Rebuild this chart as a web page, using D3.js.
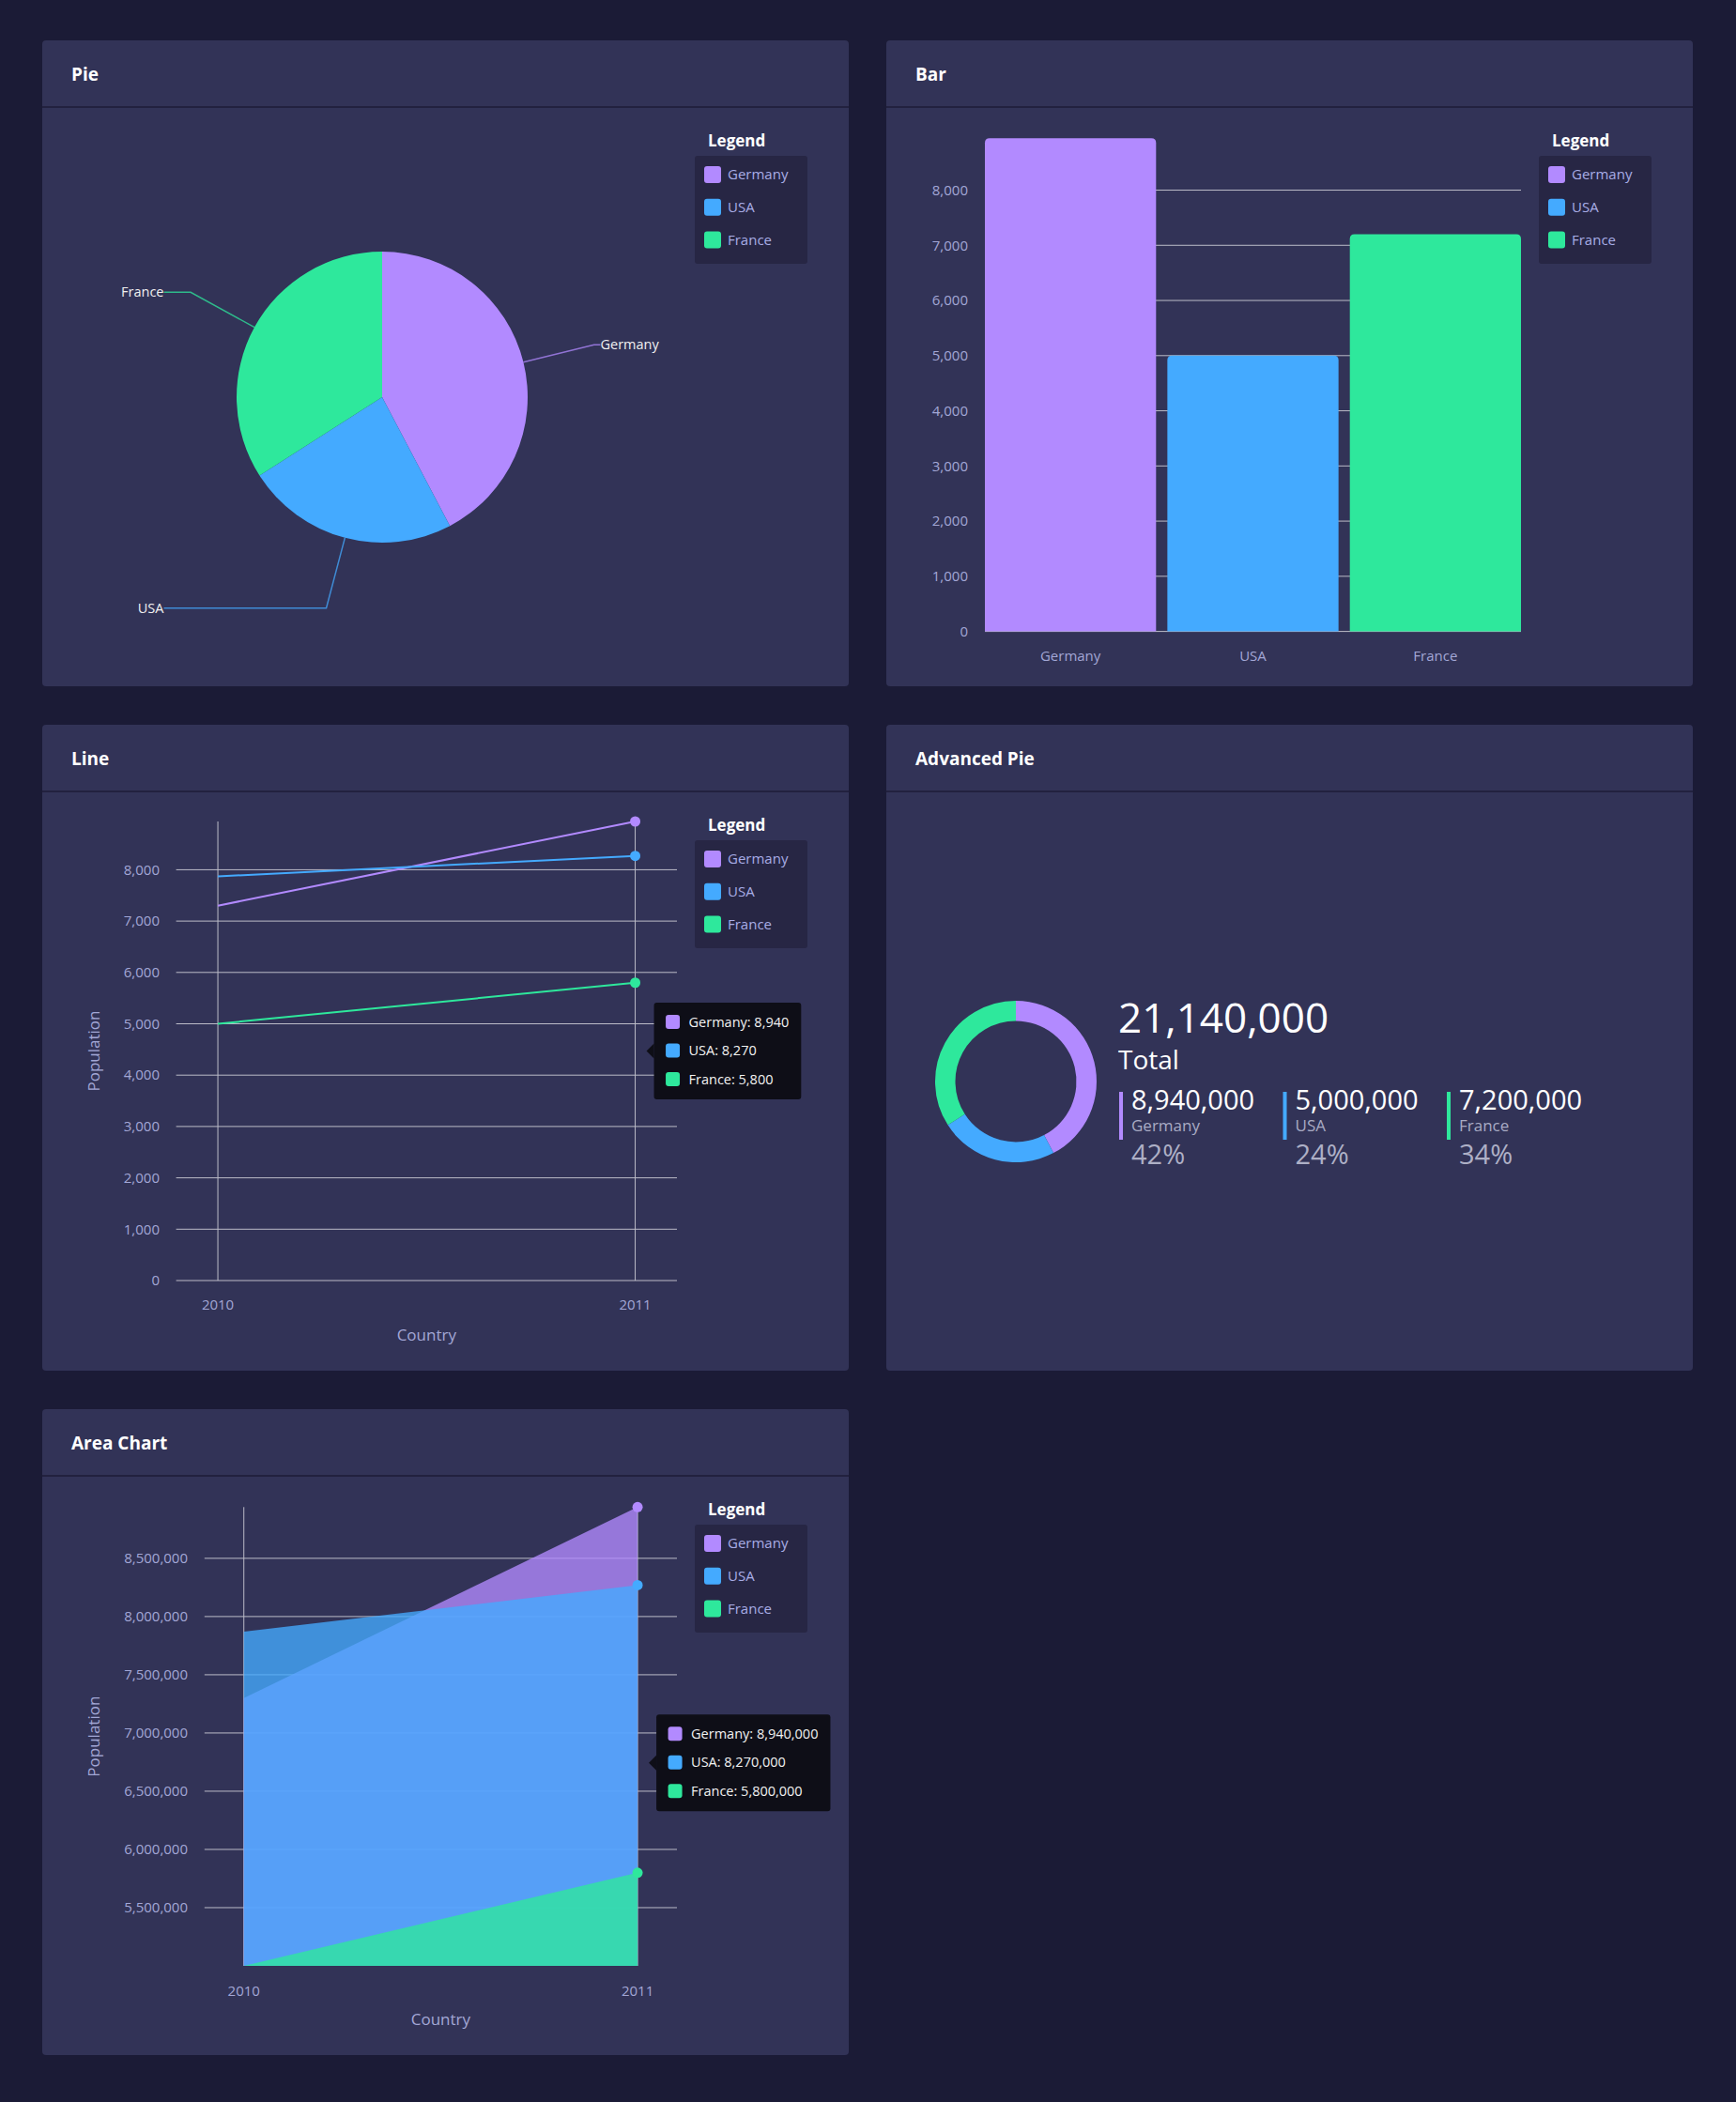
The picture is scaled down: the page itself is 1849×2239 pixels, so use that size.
<!DOCTYPE html>
<html>
<head>
<meta charset="utf-8">
<script src="https://cdn.jsdelivr.net/npm/d3@7"></script>
<style>
  body { margin: 0; background: #1b1b36; font-family: "Open Sans", sans-serif; }
  svg { display: block; }
</style>
</head>
<body>
<div id="dashboard"></div>
<script>
// ---- data ----
const countries = ["Germany", "USA", "France"];
const countryColors = ["#b28aff", "#44aaff", "#2ee89c"];

// single series (pie, advanced pie)
const singleValues = [8940000, 5000000, 7200000];
// bar chart (thousands)
const barValues = [8940, 5000, 7200];
const barTicks = [0, 1000, 2000, 3000, 4000, 5000, 6000, 7000, 8000];

// multi series
const years = ["2010", "2011"];
const lineGermany = [7300, 8940];
const lineUSA = [7870, 8270];
const lineFrance = [5000, 5800];
const lineTicks = [0, 1000, 2000, 3000, 4000, 5000, 6000, 7000, 8000];

const areaGermany = [7300000, 8940000];
const areaUSA = [7870000, 8270000];
const areaFrance = [5000002, 5800000];
const areaTicks = [5500000, 6000000, 6500000, 7000000, 7500000, 8000000, 8500000];

const ctx = {
    w: 1849,
    h: 2239,
    cardW: 859,
    cardH: 688,
    cols: [45, 944],
    rows: [43, 772, 1501],
    headerH: 71,
    cardFill: "#323357",
    tickColor: "#a3a7d6",
    gridColor: "#bcbcc8"
};

const fmt = d3.format(",");

function createViz() {
    const svg = d3.select("#dashboard").append("svg")
        .attr("width", ctx.w)
        .attr("height", ctx.h);

    svg.append("rect")
        .attr("width", ctx.w)
        .attr("height", ctx.h)
        .attr("fill", "#1b1b36");

    drawPie(drawCard(svg, ctx.cols[0], ctx.rows[0], "Pie"));
    drawBar(drawCard(svg, ctx.cols[1], ctx.rows[0], "Bar"));
    drawLine(drawCard(svg, ctx.cols[0], ctx.rows[1], "Line"));
    drawAdvancedPie(drawCard(svg, ctx.cols[1], ctx.rows[1], "Advanced Pie"));
    drawArea(drawCard(svg, ctx.cols[0], ctx.rows[2], "Area Chart"));
}

function drawCard(svg, x, y, title) {
    const g = svg.append("g").attr("transform", `translate(${x},${y})`);
    g.append("rect")
        .attr("width", ctx.cardW)
        .attr("height", ctx.cardH)
        .attr("rx", 4)
        .attr("fill", ctx.cardFill);
    g.append("line")
        .attr("x1", 0).attr("x2", ctx.cardW)
        .attr("y1", ctx.headerH).attr("y2", ctx.headerH)
        .attr("stroke", "#1e1d37")
        .attr("stroke-width", 1.5);
    g.append("text")
        .attr("x", 31)
        .attr("y", 43)
        .attr("fill", "#ffffff")
        .style("font-size", "19px")
        .style("font-weight", 700)
        .text(title);
    return g;
}

function drawLegend(g) {
    g.append("text")
        .attr("x", 709)
        .attr("y", 107)
        .attr("dy", ".35em")
        .attr("fill", "#ffffff")
        .style("font-size", "17px")
        .style("font-weight", 700)
        .text("Legend");

    g.append("rect")
        .attr("x", 695).attr("y", 123)
        .attr("width", 120).attr("height", 115)
        .attr("rx", 3)
        .attr("fill", "#272644");

    const item = g.selectAll("g.legend-item")
        .data(countries)
        .join("g")
        .attr("class", "legend-item")
        .attr("transform", (d, i) => `translate(0,${143 + i * 34.75})`);

    item.append("rect")
        .attr("x", 705).attr("y", -9)
        .attr("width", 18).attr("height", 18)
        .attr("rx", 3)
        .attr("fill", (d, i) => countryColors[i]);

    item.append("text")
        .attr("x", 730)
        .attr("dy", ".35em")
        .attr("fill", "#a8ade6")
        .style("font-size", "15px")
        .text(d => d);
}

function drawYAxis(g, y, ticks, x0, x1, labelX) {
    // horizontal grid lines + tick labels
    ticks.forEach(t => {
        g.append("line")
            .attr("x1", x0).attr("x2", x1)
            .attr("y1", y(t)).attr("y2", y(t))
            .attr("stroke", ctx.gridColor)
            .attr("stroke-width", 1);
        g.append("text")
            .attr("x", labelX)
            .attr("y", y(t))
            .attr("dy", ".35em")
            .attr("text-anchor", "end")
            .attr("fill", ctx.tickColor)
            .style("font-size", "15px")
            .text(fmt(t));
    });
}

function drawAxisLabels(g, xMid, yMid, xLabelY) {
    g.append("text")
        .attr("transform", `translate(55,${yMid}) rotate(-90)`)
        .attr("dy", ".35em")
        .attr("text-anchor", "middle")
        .attr("fill", ctx.tickColor)
        .style("font-size", "17px")
        .text("Population");
    g.append("text")
        .attr("x", xMid)
        .attr("y", xLabelY)
        .attr("dy", ".35em")
        .attr("text-anchor", "middle")
        .attr("fill", ctx.tickColor)
        .style("font-size", "17px")
        .text("Country");
}

function drawTooltip(g, left, centerY, rows) {
    const h = 103;
    const top = centerY - h / 2;
    const tip = g.append("g");
    const box = tip.append("rect")
        .attr("x", left).attr("y", top)
        .attr("height", h)
        .attr("rx", 3)
        .attr("fill", "#0e0e17");
    tip.append("path")
        .attr("d", `M${left},${centerY - 8}L${left - 8},${centerY}L${left},${centerY + 8}Z`)
        .attr("fill", "#0e0e17");

    let maxW = 0;
    rows.forEach((r, i) => {
        const cy = top + 20.5 + i * 30.5;
        tip.append("rect")
            .attr("x", left + 12.5).attr("y", cy - 7.5)
            .attr("width", 15).attr("height", 15)
            .attr("rx", 3)
            .attr("fill", countryColors[i]);
        const t = tip.append("text")
            .attr("x", left + 37)
            .attr("y", cy)
            .attr("dy", ".35em")
            .attr("fill", "#f2f2f2")
            .style("font-size", "14.5px")
            .text(r);
        maxW = Math.max(maxW, t.node().getComputedTextLength());
    });
    box.attr("width", 37 + maxW + 13);
}

function drawPie(g) {
    const cx = 362, cy = 380, r = 155;
    const data = countries.map((c, i) => ({ name: c, value: singleValues[i], color: countryColors[i] }));
    const arcs = d3.pie().sort(null).value(d => d.value)(data);
    const arc = d3.arc().innerRadius(0).outerRadius(r);

    const pg = g.append("g").attr("transform", `translate(${cx},${cy})`);
    pg.selectAll("path.slice")
        .data(arcs)
        .join("path")
        .attr("class", "slice")
        .attr("d", arc)
        .attr("fill", d => d.data.color);

    // label lines: from slice edge out to 1.5r, then horizontally
    const innerArc = d3.arc().innerRadius(r).outerRadius(r);
    const outerArc = d3.arc().innerRadius(r * 1.5).outerRadius(r * 1.5);
    const midAngle = d => d.startAngle + (d.endAngle - d.startAngle) / 2;

    arcs.forEach(d => {
        const p0 = innerArc.centroid(d);
        const p1 = outerArc.centroid(d);
        const side = midAngle(d) < Math.PI ? 1 : -1;
        const p2 = [side * r * 1.5, p1[1]];
        pg.append("path")
            .attr("d", `M${p0}L${p1}L${p2}`)
            .attr("fill", "none")
            .attr("stroke", d.data.color)
            .attr("stroke-opacity", 0.75)
            .attr("stroke-width", 1.5);
        pg.append("text")
            .attr("x", p2[0])
            .attr("y", p2[1])
            .attr("dy", ".35em")
            .attr("text-anchor", side > 0 ? "start" : "end")
            .attr("fill", "#f0f0f0")
            .style("font-size", "14.5px")
            .text(d.data.name);
    });

    drawLegend(g);
}

function drawBar(g) {
    const x = d3.scaleBand()
        .domain(countries)
        .range([105, 676])
        .paddingInner(0.062)
        .paddingOuter(0);
    const y = d3.scaleLinear()
        .domain([0, d3.max(barValues)])
        .range([629.6, 104.3]);

    drawYAxis(g, y, barTicks, 105, 676, 87);

    const rr = 5;
    g.selectAll("path.bar")
        .data(barValues)
        .join("path")
        .attr("class", "bar")
        .attr("fill", (d, i) => countryColors[i])
        .attr("d", (d, i) => {
            const x0 = x(countries[i]), w = x.bandwidth();
            const y0 = y(d), y1 = y(0);
            return `M${x0},${y1}V${y0 + rr}Q${x0},${y0} ${x0 + rr},${y0}` +
                `H${x0 + w - rr}Q${x0 + w},${y0} ${x0 + w},${y0 + rr}V${y1}Z`;
        });

    g.selectAll("text.xlabel")
        .data(countries)
        .join("text")
        .attr("class", "xlabel")
        .attr("x", d => x(d) + x.bandwidth() / 2)
        .attr("y", 656)
        .attr("dy", ".35em")
        .attr("text-anchor", "middle")
        .attr("fill", ctx.tickColor)
        .style("font-size", "15px")
        .text(d => d);

    drawLegend(g);
}

function drawLine(g) {
    const series = [lineGermany, lineUSA, lineFrance];
    const x = d3.scalePoint().domain(years).range([142.6, 676]).padding(0.1);
    const y = d3.scaleLinear()
        .domain([0, d3.max(series.flat())])
        .range([592, 103]);

    drawYAxis(g, y, lineTicks, 142.6, 676, 125);

    years.forEach(yr => {
        g.append("line")
            .attr("x1", x(yr)).attr("x2", x(yr))
            .attr("y1", y.range()[1]).attr("y2", y.range()[0])
            .attr("stroke", ctx.gridColor)
            .attr("stroke-width", 1);
        g.append("text")
            .attr("x", x(yr))
            .attr("y", 618)
            .attr("dy", ".35em")
            .attr("text-anchor", "middle")
            .attr("fill", ctx.tickColor)
            .style("font-size", "15px")
            .text(yr);
    });

    const line = d3.line()
        .x((d, i) => x(years[i]))
        .y(d => y(d));

    series.forEach((s, k) => {
        g.append("path")
            .datum(s)
            .attr("fill", "none")
            .attr("stroke", countryColors[k])
            .attr("stroke-width", 2)
            .attr("d", line);
    });

    series.forEach((s, k) => {
        g.append("circle")
            .attr("cx", x(years[1]))
            .attr("cy", y(s[1]))
            .attr("r", 5.5)
            .attr("fill", countryColors[k]);
    });

    drawAxisLabels(g, (142.6 + 676) / 2, (103 + 592) / 2, 650);
    drawLegend(g);
    drawTooltip(g, x(years[1]) + 20, (103 + 592) / 2,
        countries.map((c, k) => `${c}: ${fmt(series[k][1])}`));
}

function drawAdvancedPie(g) {
    const cx = 138, cy = 380;
    const total = d3.sum(singleValues);
    const data = countries.map((c, i) => ({ name: c, value: singleValues[i], color: countryColors[i] }));
    const arcs = d3.pie().sort(null).value(d => d.value)(data);
    const arc = d3.arc().innerRadius(64.5).outerRadius(86);

    g.append("g")
        .attr("transform", `translate(${cx},${cy})`)
        .selectAll("path")
        .data(arcs)
        .join("path")
        .attr("d", arc)
        .attr("fill", d => d.data.color);

    g.append("text")
        .attr("x", 247).attr("y", 328)
        .attr("fill", "#ffffff")
        .style("font-size", "44px")
        .text(fmt(total));
    g.append("text")
        .attr("x", 247).attr("y", 367)
        .attr("fill", "#ffffff")
        .style("font-size", "28px")
        .text("Total");

    const item = g.selectAll("g.adv-item")
        .data(data)
        .join("g")
        .attr("class", "adv-item")
        .attr("transform", (d, i) => `translate(${248 + i * 174.5},0)`);

    item.append("rect")
        .attr("x", 0).attr("y", 391)
        .attr("width", 4).attr("height", 51)
        .attr("fill", d => d.color);
    item.append("text")
        .attr("x", 13).attr("y", 410)
        .attr("fill", "#ffffff")
        .style("font-size", "29px")
        .text(d => fmt(d.value));
    item.append("text")
        .attr("x", 13).attr("y", 433)
        .attr("fill", "#a9abc4")
        .style("font-size", "17px")
        .text(d => d.name);
    item.append("text")
        .attr("x", 13).attr("y", 468)
        .attr("fill", "#aeb0c6")
        .style("font-size", "29px")
        .text(d => Math.round(d.value / total * 100) + "%");
}

function drawArea(g) {
    const series = [areaGermany, areaUSA, areaFrance];
    const x = d3.scalePoint().domain(years).range([172.8, 676]).padding(0.1);
    const y = d3.scaleLinear()
        .domain(d3.extent(series.flat()))
        .range([593, 104.3]);

    drawYAxis(g, y, areaTicks, 172.8, 676, 155);

    years.forEach(yr => {
        g.append("line")
            .attr("x1", x(yr)).attr("x2", x(yr))
            .attr("y1", y.range()[1]).attr("y2", y.range()[0])
            .attr("stroke", ctx.gridColor)
            .attr("stroke-width", 1);
        g.append("text")
            .attr("x", x(yr))
            .attr("y", 620)
            .attr("dy", ".35em")
            .attr("text-anchor", "middle")
            .attr("fill", ctx.tickColor)
            .style("font-size", "15px")
            .text(yr);
    });

    const area = d3.area()
        .x((d, i) => x(years[i]))
        .y0(y.range()[0])
        .y1(d => y(d));

    series.forEach((s, k) => {
        g.append("path")
            .datum(s)
            .attr("fill", countryColors[k])
            .attr("fill-opacity", 0.78)
            .attr("d", area);
    });

    series.forEach((s, k) => {
        g.append("circle")
            .attr("cx", x(years[1]))
            .attr("cy", y(s[1]))
            .attr("r", 5.5)
            .attr("fill", countryColors[k]);
    });

    drawAxisLabels(g, (172.8 + 676) / 2, (104.3 + 593) / 2, 650);
    drawLegend(g);
    drawTooltip(g, x(years[1]) + 20, (104.3 + 593) / 2 + 28,
        countries.map((c, k) => `${c}: ${fmt(series[k][1])}`));
}

document.addEventListener("DOMContentLoaded", function () {
    createViz();
});
</script>
</body>
</html>
